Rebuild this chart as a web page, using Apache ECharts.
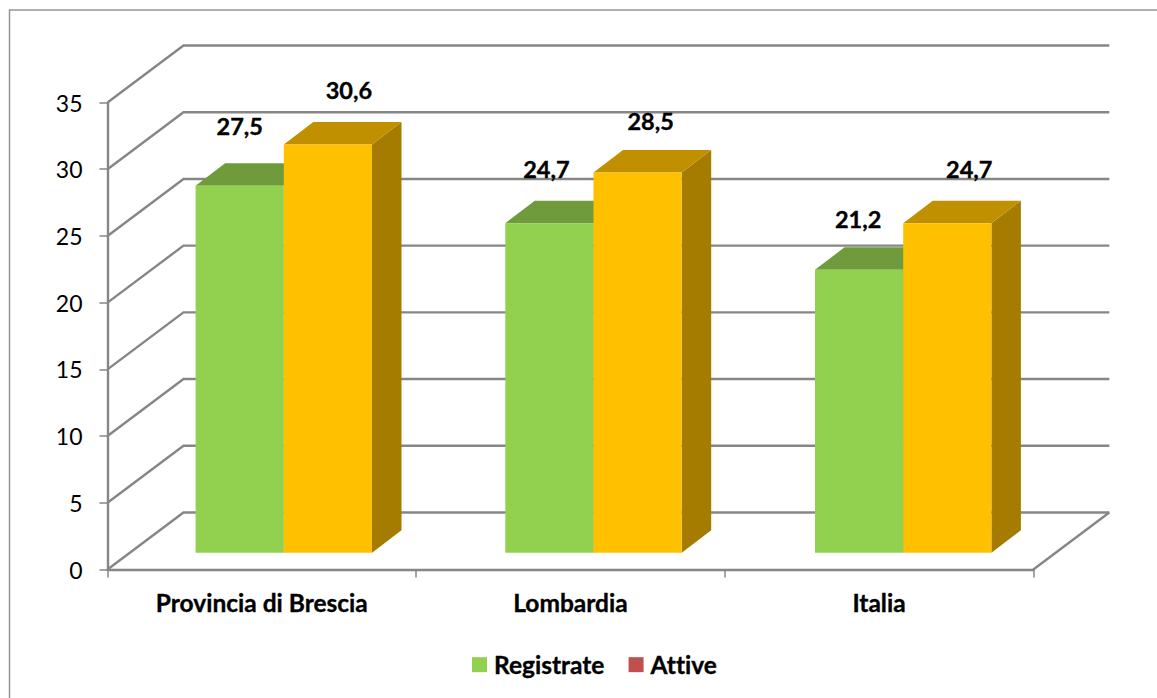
<!DOCTYPE html>
<html>
<head>
<meta charset="utf-8">
<title>Registrate / Attive</title>
<style>
  html, body { margin: 0; padding: 0; background: #fff; }
  #chart { width: 1157px; height: 698px; }
  /* Lato joins "ti" otherwise */
  #chart text { font-variant-ligatures: none; }
</style>
<script src="https://cdn.jsdelivr.net/npm/echarts@6/dist/echarts.min.js"></script>
</head>
<body>
<div id="chart"></div>
<script>
const categories = ["Provincia di Brescia", "Lombardia", "Italia"];
const registrate = [27.5, 24.7, 21.2];
const attive = [30.6, 28.5, 24.7];
const valueLabels = { Registrate: ["27,5", "24,7", "21,2"], Attive: ["30,6", "28,5", "24,7"] };
const yTicks = [0, 5, 10, 15, 20, 25, 30, 35];

// depth of the fake 3D box, in px
const WALL_DX = 76;
const WALL_DY = -57;
const BAR_DX = 29.5;
const BAR_DY = -22.5;
// bars stand a bit behind the front edge of the floor
const BAR_SHIFT_X = 22;
const BAR_SHIFT_Y = -16.8;
const BAR_SPREAD = 1.1;
const BAR_WIDTH = 88.2;

const FONT = "Lato, 'Open Sans', sans-serif";
const GRID_COLOR = "#868686";
const LINE_WIDTH = 2.4;
const BOLD_STROKE = 0.35;

// the labels were placed by hand in the original, [dx, dy] from top centre of the front face
const labelShift = {
  Registrate: [[0, -60], [-3, -54], [-1, -51]],
  Attive: [[21, -54], [13, -51], [22, -54]]
};

const wallItem = (params, api) => {
  const sys = params.coordSys;
  const y = api.coord([0, api.value(0)])[1];
  const points = [
    [sys.x, y],
    [sys.x + WALL_DX, y + WALL_DY],
    [sys.x + sys.width + WALL_DX, y + WALL_DY]
  ];
  const children = [{
    type: "polyline",
    shape: { points },
    style: { fill: "none", stroke: GRID_COLOR, lineWidth: LINE_WIDTH }
  }];
  // floor also closes on the right
  if (api.value(0) === 0) {
    children.push({
      type: "line",
      shape: { x1: sys.x + sys.width, y1: y, x2: sys.x + sys.width + WALL_DX, y2: y + WALL_DY },
      style: { stroke: GRID_COLOR, lineWidth: LINE_WIDTH }
    });
  }
  return { type: "group", children };
};

const barRenderer = (name, side, colors) => (params, api) => {
  const i = api.value(0);
  const top = api.coord([i, api.value(1)]);
  const base = api.coord([i, 0]);
  const x0 = base[0] + BAR_SHIFT_X + BAR_SPREAD * i + (side < 0 ? -BAR_WIDTH : 0);
  const x1 = x0 + BAR_WIDTH;
  const yt = top[1] + BAR_SHIFT_Y;
  const yb = base[1] + BAR_SHIFT_Y;
  const shift = labelShift[name][i];
  return {
    type: "group",
    children: [
      {
        type: "polygon",
        shape: { points: [[x1, yt], [x1 + BAR_DX, yt + BAR_DY], [x1 + BAR_DX, yb + BAR_DY], [x1, yb]] },
        style: { fill: colors.side }
      },
      {
        type: "polygon",
        shape: { points: [[x0, yt], [x0 + BAR_DX, yt + BAR_DY], [x1 + BAR_DX, yt + BAR_DY], [x1, yt]] },
        style: { fill: colors.top }
      },
      {
        type: "rect",
        shape: { x: x0, y: yt, width: x1 - x0, height: yb - yt },
        style: { fill: colors.front }
      },
      {
        type: "text",
        z2: 10,
        style: {
          text: valueLabels[name][i],
          x: (x0 + x1) / 2 + shift[0],
          y: yt + shift[1],
          align: "center",
          verticalAlign: "middle",
          fill: "#000",
          stroke: "#000",
          lineWidth: BOLD_STROKE,
          font: "bold 23.5px " + FONT
        }
      }
    ]
  };
};

const chart = echarts.init(document.getElementById("chart"), null, { renderer: "svg" });
chart.setOption({
  animation: false,
  backgroundColor: "#fff",
  textStyle: { fontFamily: FONT },
  graphic: [{
    type: "polyline",
    silent: true,
    shape: { points: [[9.5, 698], [9.5, 10], [1157, 10]] },
    style: { fill: "none", stroke: "#969696", lineWidth: 1.5 }
  }],
  legend: {
    left: 472,
    top: 652,
    padding: 0,
    itemWidth: 15,
    itemHeight: 15,
    itemGap: 24,
    selectedMode: false,
    textStyle: {
      color: "#000",
      fontWeight: "bold",
      fontSize: 24.5,
      fontFamily: FONT,
      padding: [0, 0, 0, 2],
      textBorderColor: "#000",
      textBorderWidth: BOLD_STROKE
    },
    data: [
      { name: "Registrate", icon: "rect", itemStyle: { color: "#92d050" } },
      { name: "Attive", icon: "rect", itemStyle: { color: "#c0504d" } }
    ]
  },
  grid: { left: 107.5, top: 102.5, width: 925.8, height: 467 },
  xAxis: {
    type: "category",
    data: categories,
    axisLine: { lineStyle: { color: GRID_COLOR, width: LINE_WIDTH } },
    axisTick: { show: true, alignWithLabel: false, length: 8, lineStyle: { color: GRID_COLOR, width: 1.5 } },
    axisLabel: {
      interval: 0,
      color: "#000",
      fontWeight: "bold",
      fontSize: 24.5,
      margin: 20,
      fontFamily: FONT,
      textBorderColor: "#000",
      textBorderWidth: BOLD_STROKE
    },
    splitLine: { show: false }
  },
  yAxis: {
    type: "value",
    min: 0,
    max: 35,
    interval: 5,
    axisLine: { show: true, lineStyle: { color: GRID_COLOR, width: LINE_WIDTH } },
    axisTick: { show: true, length: 8, lineStyle: { color: GRID_COLOR, width: 1.5 } },
    axisLabel: { color: "#000", fontSize: 23, margin: 25, fontFamily: FONT, padding: [4, 0, 0, 0] },
    splitLine: { show: false }
  },
  series: [
    {
      type: "custom",
      silent: true,
      z: 1,
      data: yTicks.map((v) => [v]),
      encode: { y: 0 },
      renderItem: wallItem
    },
    {
      name: "Registrate",
      type: "custom",
      z: 2,
      itemStyle: { color: "#92d050" },
      data: registrate.map((v, i) => [i, v]),
      encode: { x: 0, y: 1 },
      renderItem: barRenderer("Registrate", -1, { front: "#92d050", top: "#6f9b3c", side: "#6f9b3c" })
    },
    {
      name: "Attive",
      type: "custom",
      z: 3,
      itemStyle: { color: "#c0504d" },
      data: attive.map((v, i) => [i, v]),
      encode: { x: 0, y: 1 },
      renderItem: barRenderer("Attive", 1, { front: "#ffc000", top: "#c09000", side: "#a67c00" })
    }
  ]
});
</script>
</body>
</html>
